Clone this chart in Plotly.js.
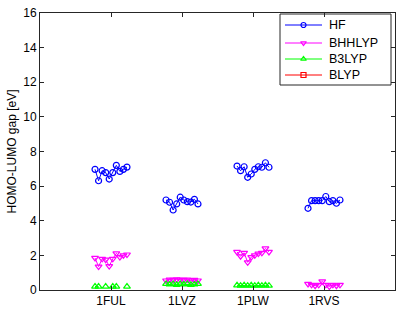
<!DOCTYPE html>
<html>
<head>
<meta charset="utf-8">
<script src="https://cdn.plot.ly/plotly-3.0.1.min.js"></script>
<style>html,body{margin:0;padding:0;background:#fff;}#chart{width:407px;height:310px;}</style>
</head>
<body>
<div id="chart"></div>
<script>
const categories = ['1FUL', '1LVZ', '1PLW', '1RVS'];
const seriesNames = ['HF', 'BHHLYP', 'B3LYP', 'BLYP'];

const hfValues = [
  [6.97, 6.31, 6.89, 6.78, 6.41, 6.78, 7.20, 6.85, 6.97, 7.10],
  [5.20, 5.07, 4.62, 4.97, 5.36, 5.20, 5.10, 5.08, 5.24, 4.97],
  [7.16, 6.89, 7.12, 6.51, 6.70, 6.97, 7.12, 7.09, 7.35, 7.09],
  [4.72, 5.16, 5.16, 5.16, 5.16, 5.40, 5.10, 5.16, 5.01, 5.20]
];
const bhhlypValues = [
  [1.85, 1.35, 1.80, 1.75, 1.38, 1.80, 2.12, 1.90, 2.00, 2.05],
  [0.55, 0.60, 0.58, 0.62, 0.60, 0.58, 0.60, 0.55, 0.58, 0.55],
  [2.20, 1.95, 2.15, 1.60, 1.90, 2.00, 2.10, 2.15, 2.40, 2.20],
  [0.35, 0.30, 0.25, 0.30, 0.50, 0.30, 0.20, 0.30, 0.25, 0.30]
];
const b3lypValues = [
  [0.20, 0.20, null, 0.20, null, 0.20, 0.20, null, null, 0.20],
  [0.35, 0.32, 0.35, 0.30, 0.35, 0.33, 0.35, 0.30, 0.32, 0.35],
  [0.27, 0.25, 0.27, 0.25, 0.27, 0.25, 0.27, 0.25, 0.27, 0.25],
  [null, null, null, null, null, null, null, null, null, null]
];
const blypValues = [
  [null, null, null, null, null, null, null, null, null, null],
  [null, null, null, null, null, null, null, null, null, null],
  [null, null, null, null, null, null, null, null, null, null],
  [null, null, null, null, null, null, null, null, null, null]
];
const yTicks = [0, 2, 4, 6, 8, 10, 12, 14, 16];

const spread = 0.05;
function build(groups) {
  const x = [], y = [];
  groups.forEach((vals, g) => {
    const n = vals.length;
    vals.forEach((v, k) => {
      x.push(g + 1 + (k - (n - 1) / 2) * spread);
      y.push(v);
    });
    x.push(null); y.push(null);
  });
  return {x, y};
}

const styles = [
  {color: '#0000ff', symbol: 'circle-open'},
  {color: '#ff00ff', symbol: 'triangle-down-open'},
  {color: '#00ff00', symbol: 'triangle-up-open'},
  {color: '#ff0000', symbol: 'square-open'}
];
const allData = [hfValues, bhhlypValues, b3lypValues, blypValues];

const traces = allData.map((d, i) => {
  const b = build(d);
  return {
    type: 'scatter', mode: 'lines+markers', name: seriesNames[i],
    x: b.x, y: b.y, connectgaps: false, showlegend: false,
    line: {color: styles[i].color, width: 1},
    marker: {symbol: styles[i].symbol, size: 6, color: styles[i].color, line: {width: 1.2, color: styles[i].color}}
  };
});

// Legend drawn in an overlay pixel-like frame (x2/y2)
const legRows = [25, 43, 59, 75];
const legendShapes = [{
  type: 'rect', xref: 'x2', yref: 'y2', x0: 280, x1: 391, y0: 14, y1: 85,
  line: {color: '#262626', width: 1}, fillcolor: '#fff', layer: 'below'
}];
const legendAnn = [];
seriesNames.forEach((name, i) => {
  traces.push({
    type: 'scatter', mode: 'lines+markers', xaxis: 'x2', yaxis: 'y2', showlegend: false,
    x: [285, 303.5, 322], y: [legRows[i], legRows[i], legRows[i]],
    line: {color: styles[i].color, width: 1},
    marker: {symbol: styles[i].symbol, size: 5, color: styles[i].color, opacity: [0, 1, 0],
             line: {width: 1.2, color: styles[i].color}},
    hoverinfo: 'skip'
  });
  legendAnn.push({
    xref: 'x2', yref: 'y2', x: 327, y: legRows[i], text: name, showarrow: false,
    xanchor: 'left', yanchor: 'middle', font: {size: 12.5, color: '#000'}
  });
});

const axisColor = '#262626';
const layout = {
  width: 407, height: 310,
  margin: {l: 40, r: 12, t: 13, b: 20},
  paper_bgcolor: '#fff', plot_bgcolor: '#fff',
  font: {family: 'Liberation Sans, Arial, sans-serif', size: 12, color: '#000'},
  showlegend: false,
  xaxis: {
    range: [0, 5], tickvals: [1, 2, 3, 4], ticktext: categories,
    ticks: 'inside', ticklen: 4, tickcolor: axisColor,
    showline: true, linecolor: axisColor, linewidth: 1, mirror: 'ticks',
    showgrid: false, zeroline: false, fixedrange: true,
    tickfont: {size: 12}
  },
  yaxis: {
    range: [0, 16], tickvals: yTicks,
    ticks: 'inside', ticklen: 4, tickcolor: axisColor,
    showline: true, linecolor: axisColor, linewidth: 1, mirror: 'ticks',
    showgrid: false, zeroline: false, fixedrange: true,
    tickfont: {size: 12},
    title: {text: 'HOMO-LUMO gap [eV]', font: {size: 12}, standoff: 4}
  },
  xaxis2: {domain: [0, 1], anchor: 'y2', overlaying: 'x', range: [40, 395], visible: false, fixedrange: true},
  yaxis2: {domain: [0, 1], anchor: 'x2', overlaying: 'y', range: [290, 13], visible: false, fixedrange: true},
  shapes: legendShapes,
  annotations: legendAnn
};

Plotly.newPlot('chart', traces, layout, {displayModeBar: false, staticPlot: true});
</script>
</body>
</html>
